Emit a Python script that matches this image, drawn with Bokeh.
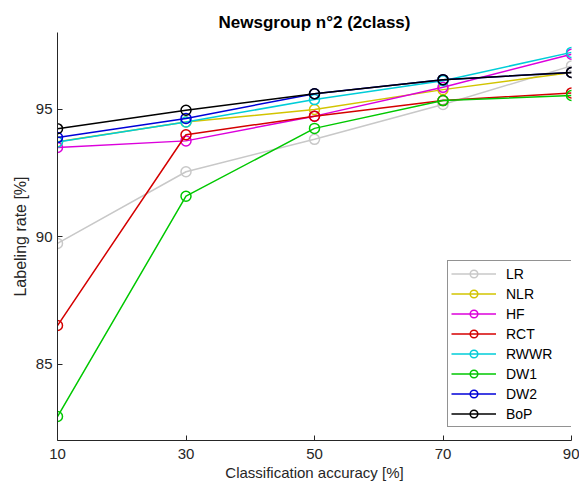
from bokeh.plotting import figure
from bokeh.models import Range1d, Legend, LegendItem, FixedTicker
from bokeh.embed import file_html
from bokeh.resources import INLINE

x = [10, 30, 50, 70, 90]
names = ["LR", "NLR", "HF", "RCT", "RWWR", "DW1", "DW2", "BoP"]
LR = [89.73, 92.54, 93.81, 95.18, 96.69]
NLR = [93.72, 94.49, 94.98, 95.76, 96.43]
HF = [93.49, 93.75, 94.72, 95.85, 97.15]
RCT = [86.51, 93.99, 94.72, 95.33, 95.63]
RWWR = [93.71, 94.49, 95.37, 96.11, 97.22]
DW1 = [82.94, 91.58, 94.24, 95.33, 95.53]
DW2 = [93.88, 94.63, 95.60, 96.15, 96.43]
BoP = [94.23, 94.95, 95.60, 96.15, 96.43]
series = [LR, NLR, HF, RCT, RWWR, DW1, DW2, BoP]
colors = ["#c8c8c8", "#d2c400", "#dc00dc", "#d40000", "#00cdd8", "#00c800", "#0000d8", "#000000"]
x_ticks = [10, 30, 50, 70, 90]
y_ticks = [85, 90, 95]

FONT = "Liberation Sans"
TXT = "#262626"

p = figure(width=579, height=486, output_backend="svg", toolbar_location=None,
           x_range=Range1d(10, 90), y_range=Range1d(82, 98),
           min_border_left=57, min_border_right=8, min_border_top=32, min_border_bottom=46)
p.outline_line_color = None
p.xgrid.visible = False
p.ygrid.visible = False

p.title.text = "Newsgroup n°2 (2class)"
p.title.align = "center"
p.title.text_font = FONT
p.title.text_font_size = "17px"
p.title.text_font_style = "bold"
p.title.text_color = "#000000"
p.title.standoff = 2

for ax in (p.xaxis[0], p.yaxis[0]):
    ax.axis_line_color = TXT
    ax.major_tick_line_color = TXT
    ax.major_tick_in = 5
    ax.major_tick_out = 0
    ax.minor_tick_line_color = None
    ax.major_label_text_font = FONT
    ax.major_label_text_font_size = "15px"
    ax.major_label_text_color = TXT
    ax.axis_label_text_font = FONT
    ax.axis_label_text_font_style = "normal"
    ax.axis_label_text_color = TXT

p.xaxis.axis_label_text_font_size = "15px"
p.yaxis.axis_label_text_font_size = "16px"
p.xaxis.ticker = FixedTicker(ticks=x_ticks)
p.yaxis.ticker = FixedTicker(ticks=y_ticks)
p.xaxis.axis_label = "Classification accuracy [%]"
p.yaxis.axis_label = "Labeling rate [%]"
p.xaxis.major_label_standoff = 8
p.xaxis.axis_label_standoff = 2
p.yaxis.major_label_standoff = 5
p.yaxis.axis_label_standoff = 4

items = []
for name, ys, c in zip(names, series, colors):
    l = p.line(x, ys, line_color=c, line_width=1.5)
    s = p.scatter(x, ys, marker="circle", size=10, fill_color=None, line_color=c, line_width=1.5)
    items.append(LegendItem(label=name, renderers=[l, s]))

legend = Legend(items=items, location=(390, 13))
legend.label_text_font = FONT
legend.label_text_font_size = "14px"
legend.label_text_color = "#000000"
legend.glyph_width = 45
legend.glyph_height = 19
legend.label_height = 19
legend.label_width = 62
legend.label_standoff = 10
legend.spacing = 1
legend.padding = 3
legend.margin = 0
legend.border_line_color = TXT
legend.border_line_width = 0.8
legend.background_fill_color = "white"
legend.background_fill_alpha = 1
p.add_layout(legend, "center")

open("out.html", "w").write(file_html(p, INLINE))
